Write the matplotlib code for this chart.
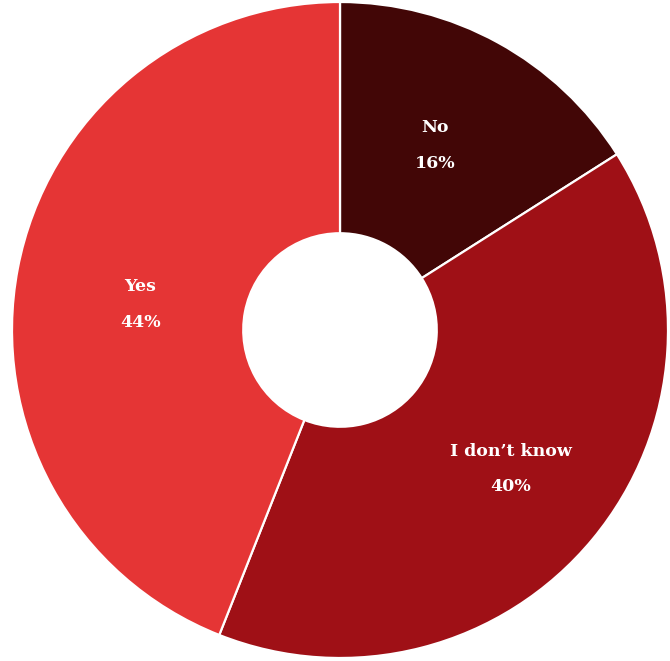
import matplotlib.pyplot as plt
import numpy as np

labels = ['No', "I don\u2019t know", 'Yes']
shares = [16, 40, 44]
colors = ['#420606', '#9f1016', '#e53535']

fig = plt.figure(figsize=(6.70, 6.61), dpi=100)
ax = fig.add_axes([0, 0, 1, 1])

R = 328.0
cx, cy = 340.0, 330.0
wedges, _ = ax.pie(shares, colors=colors, startangle=90, counterclock=False,
                   radius=1.0, center=(0, 0),
                   wedgeprops=dict(width=0.705, edgecolor='white', linewidth=1.6))

# small nudges (in pixels) so the labels sit where the original puts them
nudge = [(-7, -1), (8, -4), (8, -14)]

# labels in the middle of each ring segment
for w, lab, pct, (dx, dy) in zip(wedges, labels, shares, nudge):
    ang = np.deg2rad((w.theta1 + w.theta2) / 2)
    r = 0.645
    x = r * np.cos(ang) + dx / R
    y = r * np.sin(ang) + dy / R
    ax.text(x, y + 0.054, lab, ha='center', va='center', color='white',
            fontsize=12.5, fontweight='bold', family='DejaVu Serif')
    ax.text(x, y - 0.054, f'{pct}%', ha='center', va='center', color='white',
            fontsize=12.5, fontweight='bold', family='DejaVu Serif')

ax.set_xlim(-cx / R, (670 - cx) / R)
ax.set_ylim((cy - 661) / R, cy / R)
ax.set_aspect('equal')
ax.axis('off')

fig.savefig('out.png', dpi=100)
